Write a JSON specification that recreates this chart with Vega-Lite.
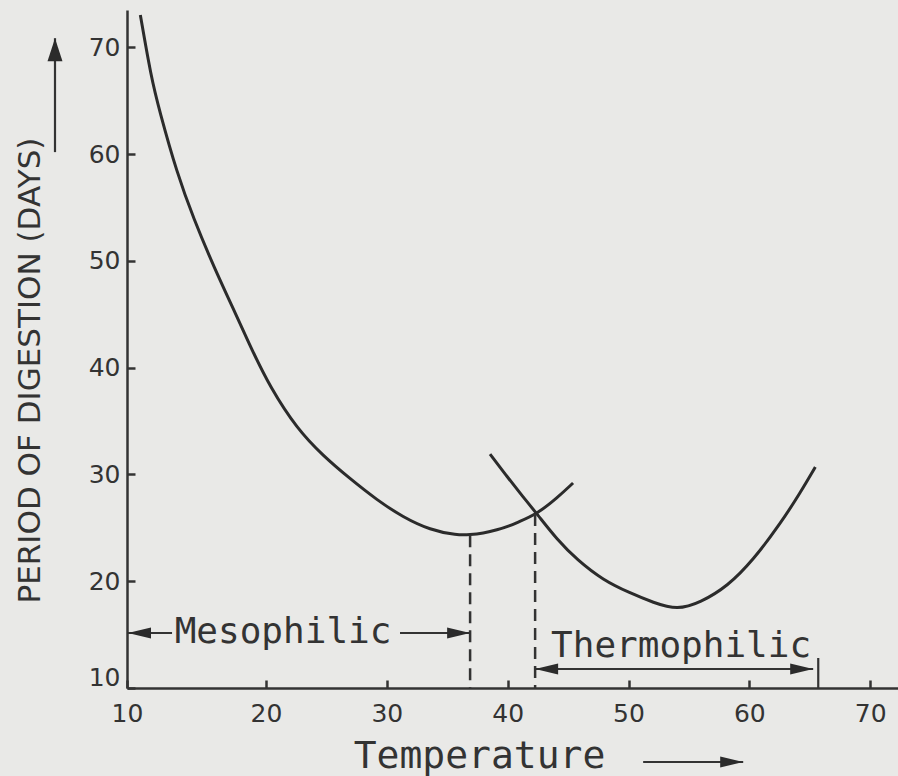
{
  "$schema": "https://vega.github.io/schema/vega-lite/v6.json",
  "width": 771,
  "height": 678,
  "autosize": {"type": "none"},
  "padding": {"left": 127, "top": 10, "right": 0, "bottom": 88},
  "background": "#e9e9e7",
  "config": {"view": {"stroke": null}, "axis": {"grid": false}},
  "datasets": {
    "curves": [
      {"series": "meso", "t": 10.96, "d": 73.03},
      {"series": "meso", "t": 11.73, "d": 67.25},
      {"series": "meso", "t": 12.32, "d": 64.13},
      {"series": "meso", "t": 13.6, "d": 58.2},
      {"series": "meso", "t": 14.8, "d": 53.93},
      {"series": "meso", "t": 16.24, "d": 49.46},
      {"series": "meso", "t": 17.91, "d": 44.78},
      {"series": "meso", "t": 18.99, "d": 41.66},
      {"series": "meso", "t": 20.33, "d": 38.19},
      {"series": "meso", "t": 22.57, "d": 34.26},
      {"series": "meso", "t": 24.72, "d": 31.75},
      {"series": "meso", "t": 26.95, "d": 29.6},
      {"series": "meso", "t": 29.19, "d": 27.6},
      {"series": "meso", "t": 31.34, "d": 26.0},
      {"series": "meso", "t": 33.58, "d": 24.8},
      {"series": "meso", "t": 35.81, "d": 24.3},
      {"series": "meso", "t": 36.89, "d": 24.35},
      {"series": "meso", "t": 37.96, "d": 24.5},
      {"series": "meso", "t": 39.12, "d": 24.8},
      {"series": "meso", "t": 40.2, "d": 25.2},
      {"series": "meso", "t": 40.78, "d": 25.5},
      {"series": "meso", "t": 42.43, "d": 26.3},
      {"series": "meso", "t": 44.09, "d": 27.8},
      {"series": "meso", "t": 45.41, "d": 29.2},
      {"series": "thermo", "t": 38.54, "d": 31.9},
      {"series": "thermo", "t": 39.95, "d": 29.8},
      {"series": "thermo", "t": 41.27, "d": 27.9},
      {"series": "thermo", "t": 42.43, "d": 26.3},
      {"series": "thermo", "t": 44.09, "d": 23.9},
      {"series": "thermo", "t": 45.75, "d": 22.0},
      {"series": "thermo", "t": 47.9, "d": 20.1},
      {"series": "thermo", "t": 50.12, "d": 18.9},
      {"series": "thermo", "t": 52.05, "d": 18.0},
      {"series": "thermo", "t": 54.04, "d": 17.3},
      {"series": "thermo", "t": 55.94, "d": 18.0},
      {"series": "thermo", "t": 58.18, "d": 19.5},
      {"series": "thermo", "t": 60.33, "d": 22.0},
      {"series": "thermo", "t": 62.57, "d": 25.4},
      {"series": "thermo", "t": 64.22, "d": 28.3},
      {"series": "thermo", "t": 65.46, "d": 30.7}
    ],
    "dashes": [
      {"t": 36.89, "d": 24.3, "d2": 10},
      {"t": 42.27, "d": 26.3, "d2": 10}
    ],
    "segs": [
      {"t": 10.07, "t2": 13.24, "d": 15.15, "d2": 15.15},
      {"t": 31.09, "t2": 36.89, "d": 15.15, "d2": 15.15},
      {"t": 42.27, "t2": 65.28, "d": 11.78, "d2": 11.78},
      {"t": 65.7, "t2": 65.7, "d": 10, "d2": 12.81},
      {"t": 4.82, "t2": 4.82, "d": 60.19, "d2": 70.86},
      {"t": 51.21, "t2": 59.49, "d": 3.07, "d2": 3.07}
    ],
    "heads": [
      {"t": 10.07, "d": 15.15, "dir": "left"},
      {"t": 36.89, "d": 15.15, "dir": "right"},
      {"t": 42.27, "d": 11.78, "dir": "left"},
      {"t": 65.28, "d": 11.78, "dir": "right"},
      {"t": 4.82, "d": 70.86, "dir": "up"},
      {"t": 59.49, "d": 3.07, "dir": "right"}
    ],
    "labels": [
      {"t": 21.41, "d": 14.2, "label": "Mesophilic"},
      {"t": 54.35, "d": 12.9, "label": "Thermophilic"}
    ]
  },
  "encoding": {
    "x": {
      "field": "t",
      "type": "quantitative",
      "scale": {"domain": [10, 20, 72.3], "range": [0, 139, 771], "zero": false, "nice": false},
      "axis": {
        "values": [10, 20, 30, 40, 50, 60, 70],
        "title": "Temperature",
        "grid": false,
        "tickSize": -8,
        "tickWidth": 2.5,
        "tickColor": "#333333",
        "domainColor": "#333333",
        "domainWidth": 2.5,
        "labelFont": "DejaVu Sans",
        "labelFontSize": 25,
        "labelColor": "#333333",
        "labelPadding": 21,
        "labelFlush": false,
        "labelOverlap": false,
        "titleFont": "DejaVu Sans Mono",
        "titleFontSize": 38,
        "titleFontWeight": "normal",
        "titleColor": "#333333",
        "titleX": 352,
        "titleY": 79,
        "titleAlign": "center",
        "titleBaseline": "alphabetic"
      }
    },
    "y": {
      "field": "d",
      "type": "quantitative",
      "scale": {"domain": [10, 73.5], "zero": false, "nice": false},
      "axis": {
        "values": [10, 20, 30, 40, 50, 60, 70],
        "title": "PERIOD OF DIGESTION (DAYS)",
        "grid": false,
        "tickSize": -8,
        "tickWidth": 2.5,
        "tickColor": "#333333",
        "domainColor": "#333333",
        "domainWidth": 2.5,
        "labelFont": "DejaVu Sans",
        "labelFontSize": 25,
        "labelColor": "#333333",
        "labelPadding": 15,
        "labelFlush": true,
        "labelFlushOffset": 2,
        "labelOverlap": false,
        "titleFont": "DejaVu Sans",
        "titleFontSize": 31,
        "titleFontWeight": "normal",
        "titleColor": "#333333",
        "titleX": -88,
        "titleY": 360,
        "titleAngle": 270,
        "titleAlign": "center",
        "titleBaseline": "alphabetic"
      }
    }
  },
  "layer": [
    {
      "data": {"name": "curves"},
      "mark": {"type": "line", "interpolate": "basis", "strokeWidth": 3, "color": "#2b2b2b", "clip": false},
      "encoding": {"detail": {"field": "series"}}
    },
    {
      "data": {"name": "dashes"},
      "mark": {"type": "rule", "strokeDash": [12, 7], "strokeWidth": 2.5, "color": "#333333", "clip": false},
      "encoding": {"y2": {"field": "d2"}}
    },
    {
      "data": {"name": "segs"},
      "mark": {"type": "rule", "strokeWidth": 2.2, "color": "#333333", "clip": false},
      "encoding": {"x2": {"field": "t2"}, "y2": {"field": "d2"}}
    },
    {
      "data": {"name": "heads"},
      "mark": {"type": "point", "filled": true, "size": 529, "opacity": 1, "color": "#2b2b2b", "strokeWidth": 0, "clip": false},
      "encoding": {
        "shape": {
          "field": "dir",
          "type": "nominal",
          "scale": {
            "domain": ["left", "right", "up"],
            "range": ["M0,0L2,-0.48L2,0.48Z", "M0,0L-2,-0.48L-2,0.48Z", "M0,0L-0.65,2L0.65,2Z"]
          },
          "legend": null
        }
      }
    },
    {
      "data": {"name": "labels"},
      "mark": {"type": "text", "font": "DejaVu Sans Mono", "fontSize": 36, "color": "#333333", "align": "center", "baseline": "alphabetic", "clip": false},
      "encoding": {"text": {"field": "label"}}
    }
  ]
}
